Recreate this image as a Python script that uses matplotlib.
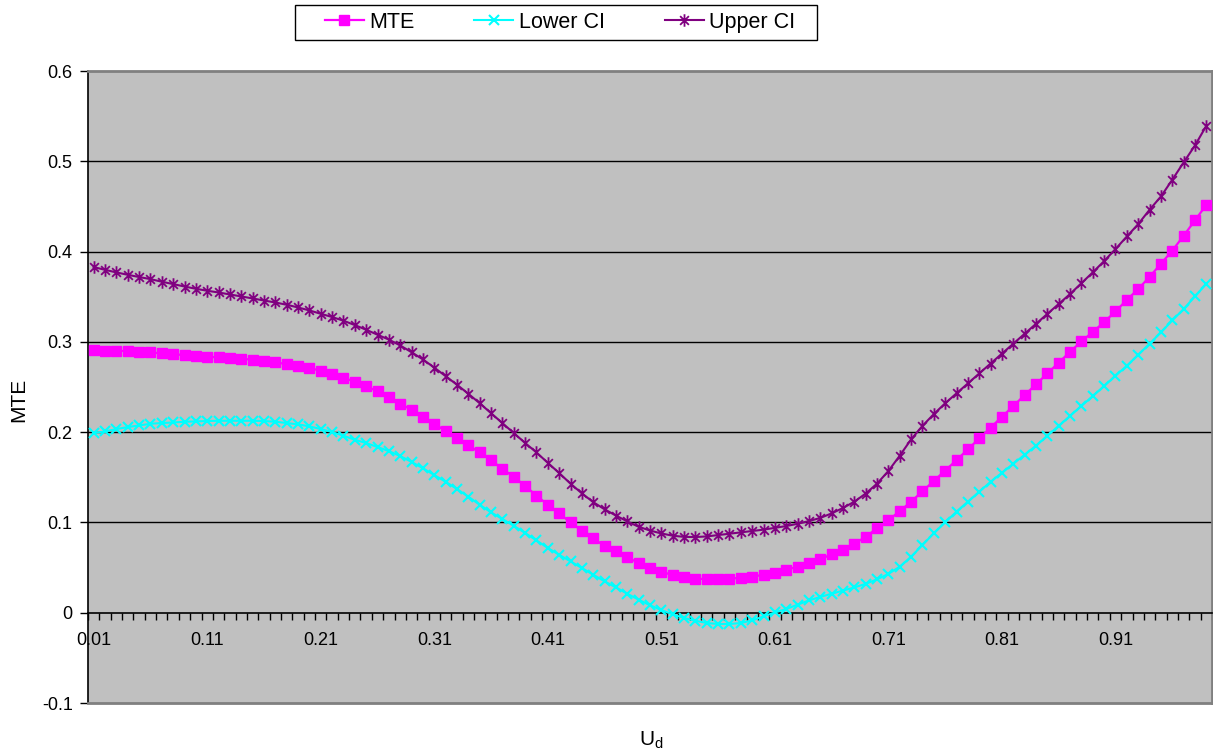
import numpy as np
import matplotlib
matplotlib.use("Agg")
import matplotlib.pyplot as plt
from matplotlib.path import Path
from matplotlib.patches import Rectangle

plt.rcParams['font.family'] = ['Liberation Sans', 'DejaVu Sans']
plt.rcParams['mathtext.default'] = 'regular'

# categories 0.01 ... 0.99
u_d = [round(0.01 * k, 2) for k in range(1, 100)]

mte = [0.2905, 0.2901, 0.2901, 0.2898, 0.2890, 0.2883, 0.2872, 0.2864, 0.2853, 0.2842,
       0.2835, 0.2828, 0.2821, 0.2813, 0.2802, 0.2788, 0.2772, 0.2754, 0.2732, 0.2710,
       0.2680, 0.2643, 0.2602, 0.2558, 0.2510, 0.2451,
       0.2385, 0.2317, 0.2245, 0.2170, 0.2092, 0.2012, 0.1935, 0.1855,
       0.1775, 0.1687, 0.1595, 0.1503, 0.1406, 0.1296, 0.1196, 0.1100, 0.1000, 0.0910,
       0.0822, 0.0740, 0.0679, 0.0612, 0.0553, 0.0499, 0.0454, 0.0417, 0.0395, 0.0377,
       0.0372, 0.0374, 0.0378, 0.0386, 0.0400, 0.0420, 0.0445, 0.0475, 0.0510, 0.0550,
       0.0595, 0.0645, 0.0700, 0.0765, 0.0840,
       0.0935, 0.1025, 0.1125, 0.1230, 0.1345, 0.1460, 0.1575, 0.1690, 0.1810, 0.1930,
       0.2050, 0.2170, 0.2290, 0.2410, 0.2530, 0.2650, 0.2770, 0.2890, 0.3005, 0.3110,
       0.3219, 0.3337, 0.3465, 0.3585, 0.3720, 0.3865, 0.4010, 0.4175, 0.4345, 0.4518]

lower_ci = [0.1990, 0.2008, 0.2034, 0.2056, 0.2074, 0.2093, 0.2101, 0.2107, 0.2115, 0.2119,
            0.2123, 0.2126, 0.2126, 0.2126, 0.2126, 0.2123, 0.2115, 0.2101, 0.2086, 0.2064,
            0.2034, 0.2001, 0.1960, 0.1916, 0.1879, 0.1835,
            0.1790, 0.1735, 0.1670, 0.1600, 0.1525, 0.1450, 0.1370, 0.1285,
            0.1196, 0.1111, 0.1038, 0.0963, 0.0883, 0.0801, 0.0717, 0.0642, 0.0568, 0.0495,
            0.0421, 0.0347, 0.0280, 0.0210, 0.0144,
            0.0083, 0.0029, -0.0018, -0.0059, -0.0089, -0.0114, -0.0125, -0.0125, -0.0114,
            -0.0085, -0.0041, 0.0003, 0.0041, 0.0089, 0.0136,
            0.0175, 0.0210, 0.0245, 0.0280, 0.0320, 0.0370, 0.0430,
            0.0510, 0.0620, 0.0750, 0.0880, 0.1000, 0.1120, 0.1230, 0.1340, 0.1450, 0.1550,
            0.1650, 0.1750, 0.1850, 0.1960, 0.2070, 0.2180, 0.2290, 0.2400, 0.2510,
            0.2625, 0.2735, 0.2857, 0.2979, 0.3105, 0.3237, 0.3363, 0.3503, 0.3643]

upper_ci = [0.3828, 0.3798, 0.3769, 0.3743, 0.3718, 0.3695, 0.3666, 0.3640, 0.3613, 0.3588,
            0.3566, 0.3547, 0.3525, 0.3503, 0.3481, 0.3458, 0.3436, 0.3411, 0.3381, 0.3348,
            0.3311, 0.3275, 0.3234, 0.3186, 0.3134, 0.3079,
            0.3025, 0.2960, 0.2885, 0.2805, 0.2715, 0.2620, 0.2525, 0.2425, 0.2320, 0.2210,
            0.2100, 0.1990, 0.1880,
            0.1775, 0.1660, 0.1547, 0.1429, 0.1322, 0.1225, 0.1145, 0.1076, 0.1011, 0.0952,
            0.0910, 0.0878, 0.0853, 0.0840, 0.0838,
            0.0845, 0.0860, 0.0875, 0.0890, 0.0905, 0.0920, 0.0940, 0.0960, 0.0985, 0.1015,
            0.1050, 0.1100, 0.1160, 0.1230, 0.1320, 0.1430, 0.1570, 0.1740, 0.1920, 0.2070,
            0.2200, 0.2320, 0.2430, 0.2540, 0.2650, 0.2760, 0.2870, 0.2980, 0.3090, 0.3200,
            0.3310, 0.3420, 0.3530, 0.3650, 0.3770,
            0.3895, 0.4028, 0.4167, 0.4304, 0.4463, 0.4610, 0.4795, 0.4987, 0.5175, 0.5393]

y_ticks = [-0.1, 0, 0.1, 0.2, 0.3, 0.4, 0.5, 0.6]

# excel style asterisk: vertical bar + X
star = Path([(0, -1), (0, 1), (-0.7, -0.7), (0.7, 0.7), (-0.7, 0.7), (0.7, -0.7)],
            [Path.MOVETO, Path.LINETO, Path.MOVETO, Path.LINETO, Path.MOVETO, Path.LINETO])

fig = plt.figure(figsize=(12.13, 7.55), dpi=100)
ax = fig.add_axes([88 / 1213, 52 / 755, 1124 / 1213, 632 / 755])
ax.set_facecolor('#C0C0C0')

# x axis line crosses at y = 0 (set before ticks, it resets them)
ax.spines['bottom'].set_position(('data', 0))

ax.plot(u_d, mte, color='#FF00FF', lw=1.6, marker='s', ms=6.5, mec='#FF00FF', label='MTE', zorder=4)
ax.plot(u_d, lower_ci, color='#00FFFF', lw=1.5, marker='x', ms=7, mew=1.5, label='Lower CI', zorder=3)
ax.plot(u_d, upper_ci, color='#800080', lw=1.5, marker=star, ms=9, mew=1.3, label='Upper CI', zorder=5)

ax.set_xlim(0.005, 0.995)
ax.set_ylim(-0.1, 0.6)

for y in y_ticks[2:-1]:
    ax.axhline(y, color='black', lw=1, zorder=1)

ax.set_yticks(y_ticks)
ax.set_yticklabels([f"{v:g}" for v in y_ticks])
ax.tick_params(axis='y', length=6, width=1, pad=5, labelsize=13)

ax.set_xticks(u_d[::10])
ax.set_xticklabels([f"{v:g}" for v in u_d[::10]])
ax.set_xticks(np.arange(0.005, 1.0, 0.01), minor=True)
ax.tick_params(axis='x', which='major', length=0, pad=14, labelsize=13)
ax.tick_params(axis='x', which='minor', length=5, width=1, direction='out')

ax.spines['bottom'].set_color('black')
ax.spines['left'].set_color('black')
ax.spines['top'].set_color('#808080')
ax.spines['right'].set_color('#808080')
ax.axhline(-0.1, color='#808080', lw=2, zorder=6, clip_on=False)
for s in ax.spines.values():
    s.set_linewidth(1.2)
ax.spines['top'].set_linewidth(2)
ax.spines['right'].set_linewidth(2)

fig.text(19 / 1213, 1 - 400 / 755, 'MTE', rotation=90, ha='center', va='center', fontsize=15)
fig.text(651 / 1213, 1 - 746 / 755, 'U$_d$', ha='center', va='baseline', fontsize=15)

fig.patches.append(Rectangle((295 / 1213, 1 - 40 / 755), 522 / 1213, 35 / 755,
                             transform=fig.transFigure, facecolor='white',
                             edgecolor='black', lw=1))
fig.legend(loc='center', bbox_to_anchor=(560 / 1213, 1 - 22.5 / 755), ncol=3,
           frameon=False, fontsize=15.5, handlelength=1.8, handletextpad=0.25,
           columnspacing=2.8, borderpad=0.1)

fig.savefig('out.png', dpi=100)
